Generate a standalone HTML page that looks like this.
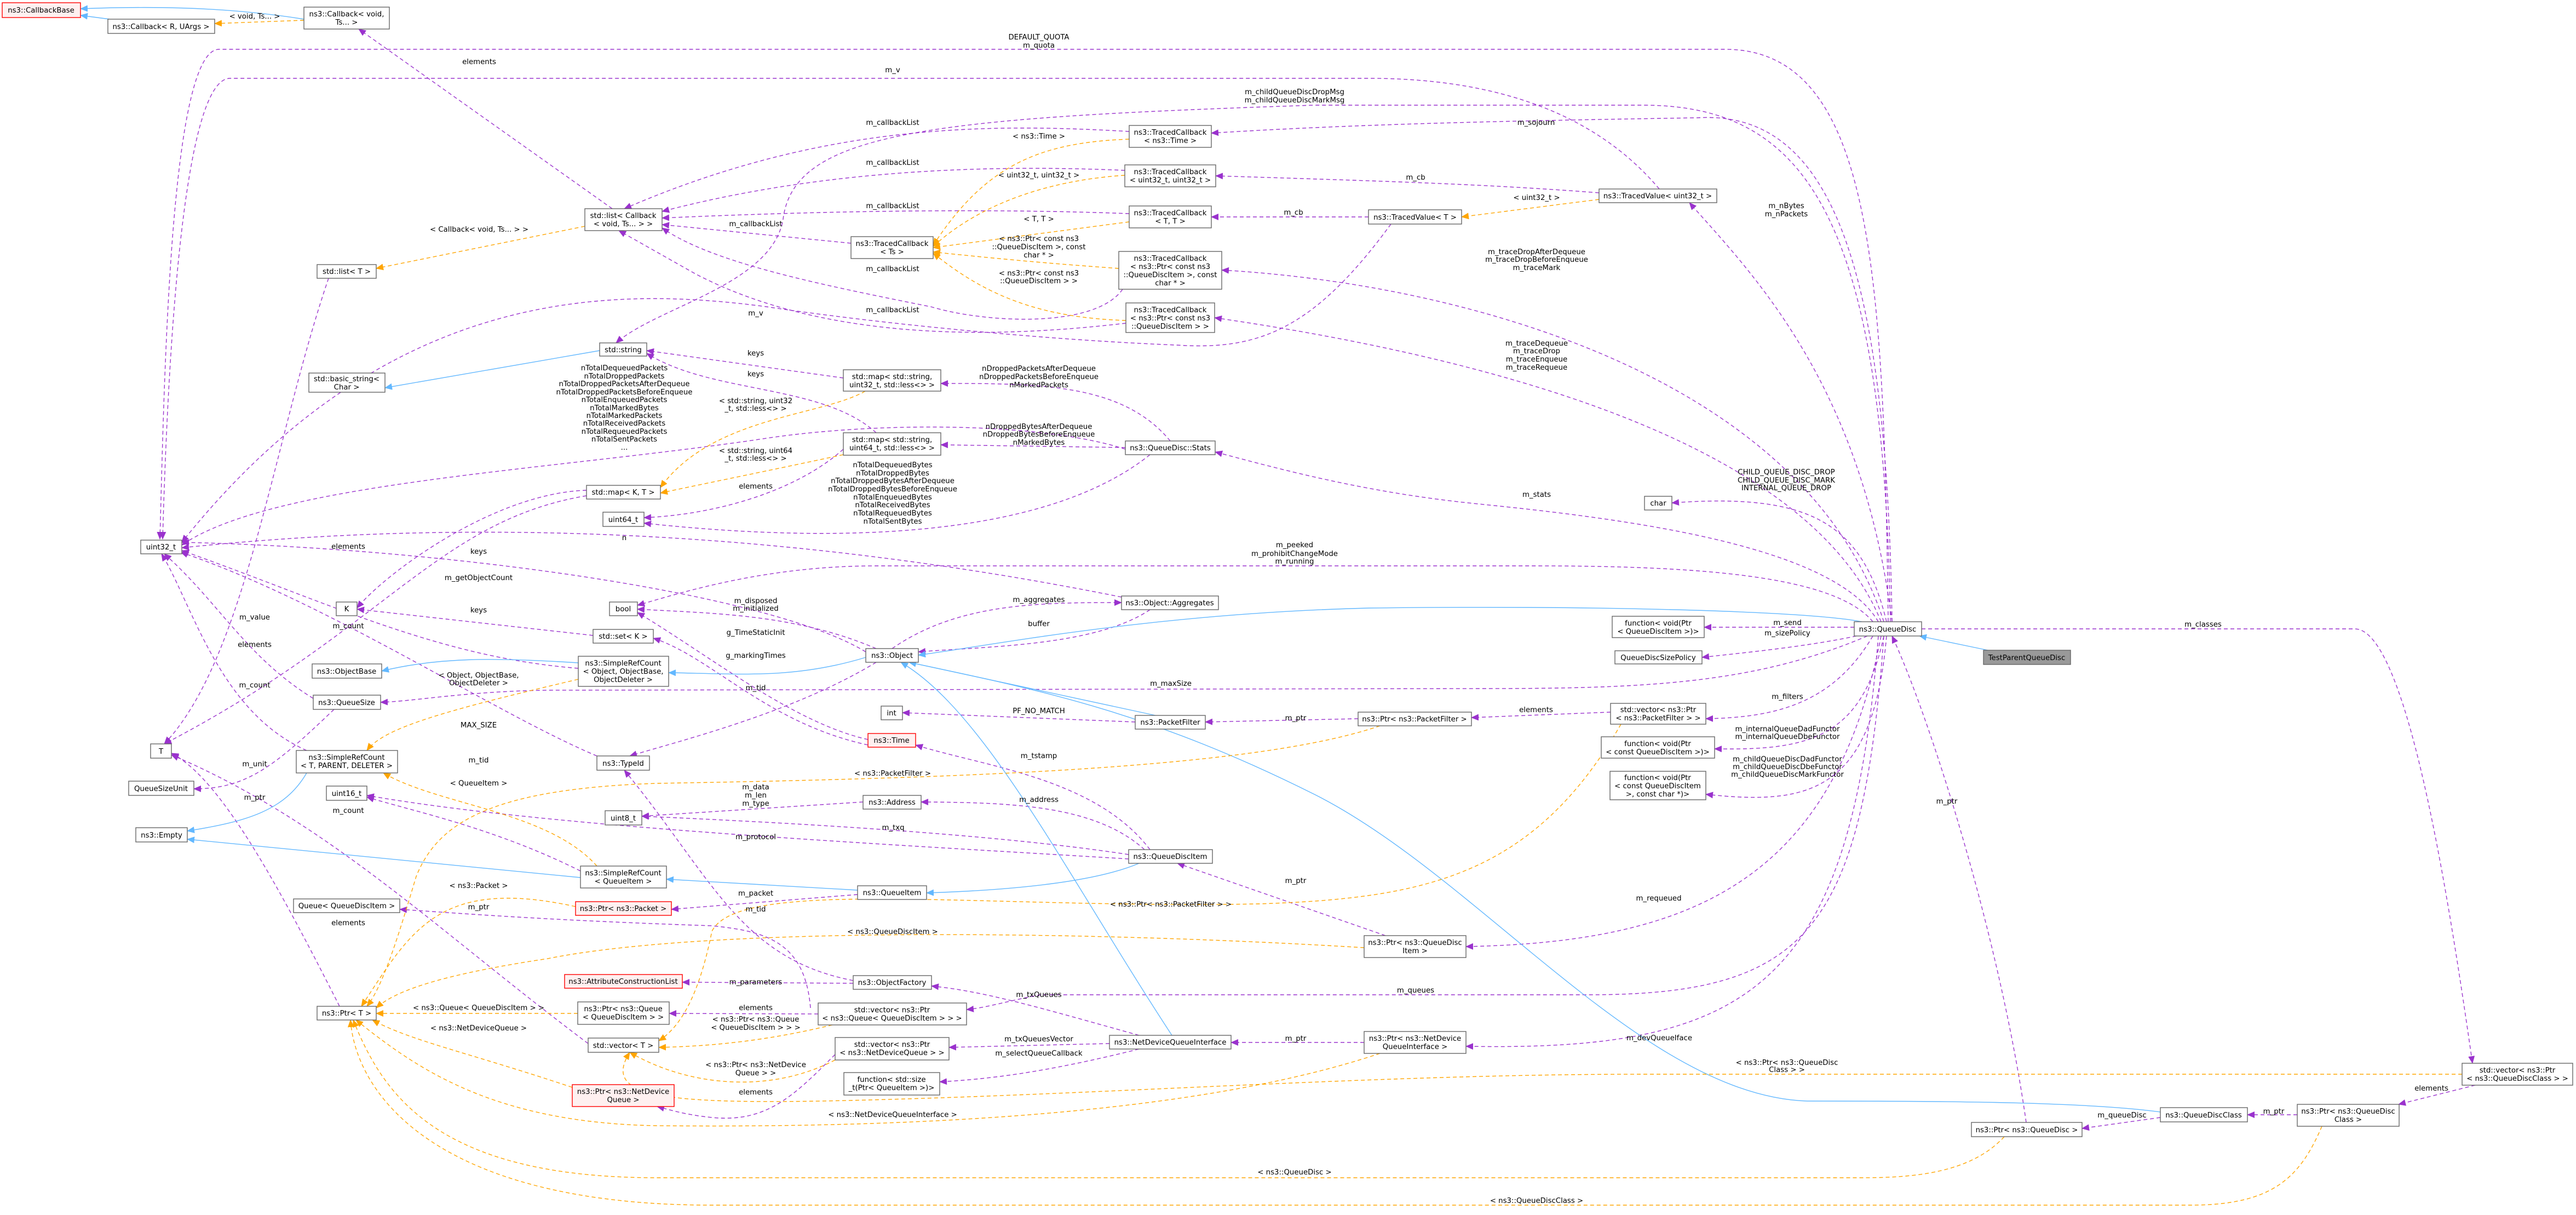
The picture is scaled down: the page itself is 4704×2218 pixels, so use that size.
<!DOCTYPE html>
<html><head><meta charset="utf-8">
<style>
html,body{margin:0;padding:0;background:#fff;}
svg{display:block;}
text{font-family:"DejaVu Sans","Liberation Sans",sans-serif;font-size:13.3px;fill:#000;}
.n{fill:#fff;stroke:#666;stroke-width:1.4;}
.r{fill:#fff0f0;stroke:#f00;stroke-width:1.4;}
.g{fill:#999;stroke:#666;stroke-width:1.4;}
.p{fill:none;stroke:#9a32cd;stroke-width:1.4;stroke-dasharray:7,5;}
.b{fill:none;stroke:#63b8ff;stroke-width:1.4;}
.o{fill:none;stroke:#ffa500;stroke-width:1.4;stroke-dasharray:7,5;}
</style></head><body>
<svg width="4704" height="2218" viewBox="0 0 4704 2218" xmlns="http://www.w3.org/2000/svg">
<defs>
<marker id="mp" markerWidth="14" markerHeight="12" refX="13" refY="6" orient="auto" markerUnits="userSpaceOnUse"><path d="M0,0 L14,6 L0,12 z" fill="#9a32cd"/></marker>
<marker id="mb" markerWidth="14" markerHeight="12" refX="13" refY="6" orient="auto" markerUnits="userSpaceOnUse"><path d="M0,0 L14,6 L0,12 z" fill="#63b8ff"/></marker>
<marker id="mo" markerWidth="14" markerHeight="12" refX="13" refY="6" orient="auto" markerUnits="userSpaceOnUse"><path d="M0,0 L14,6 L0,12 z" fill="#ffa500"/></marker>
</defs>
<rect width="4704" height="2218" fill="#fff"/>

<!-- purple edges -->
<g marker-end="url(#mp)">
<path class="p" d="M3448,1135 C3440,500 3420,90 3150,90 L400,90 C310,90 300,700 292,984"/>
<path class="p" d="M3030,345 C2950,250 2800,143 2500,143 L420,143 C330,143 305,700 297,984"/>
<path class="p" d="M2540,409 C2400,600 2300,640 2150,630 C1900,620 1600,590 1400,560 C1100,520 700,530 332,990"/>
<path class="p" d="M3452,1135 C3440,400 3300,192 3000,192 L2400,192 C1700,215 1450,240 1430,400 C1410,520 1200,560 1125,626"/>
<path class="p" d="M3455,1135 C3445,500 3350,200 3100,215 C2800,220 2500,225 2212,243"/>
<path class="p" d="M2062,240 C1800,225 1500,225 1140,381"/>
<path class="p" d="M2054,311 C1800,300 1500,310 1209,386"/>
<path class="p" d="M2062,390 C1800,380 1500,385 1209,398"/>
<path class="p" d="M1554,444 L1209,410"/>
<path class="p" d="M2050,528 C2000,600 1800,590 1700,560 C1500,520 1300,480 1209,416"/>
<path class="p" d="M2056,590 C1800,620 1500,620 1270,500 L1130,421"/>
<path class="p" d="M1118,381 L655,53"/>
<path class="p" d="M2920,352 C2700,335 2500,330 2220,321"/>
<path class="p" d="M2499,396 L2212,396"/>
<path class="p" d="M3455,1135 C3400,700 3200,500 3085,370"/>
<path class="p" d="M3440,1135 C3300,700 2700,520 2231,493"/>
<path class="p" d="M3435,1135 C3300,800 2700,650 2218,580"/>
<path class="p" d="M3430,1135 C3350,1000 3000,950 2700,920 C2500,900 2350,860 2219,825"/>
<path class="p" d="M3445,1135 C3400,950 3300,900 3053,918"/>
<path class="p" d="M2137,805 C2050,700 1900,700 1718,700"/>
<path class="p" d="M2055,817 L1718,812"/>
<path class="p" d="M2100,830 C1900,990 1500,990 1176,955"/>
<path class="p" d="M2055,820 C1900,770 1600,770 1400,800 C1000,860 500,880 332,995"/>
<path class="p" d="M1540,690 L1181,640"/>
<path class="p" d="M1600,790 C1500,700 1300,720 1181,645"/>
<path class="p" d="M1071,895 C900,900 700,1050 652,1110"/>
<path class="p" d="M1071,905 C800,950 700,1150 300,1358"/>
<path class="p" d="M1540,820 C1450,900 1300,940 1176,945"/>
<path class="p" d="M3420,1135 C3350,1050 3100,1033 2800,1033 L1600,1033 C1400,1033 1250,1080 1164,1105"/>
<path class="p" d="M1600,1184 C1450,1120 1300,1120 1164,1112"/>
<path class="p" d="M1629,1184 C1750,1100 1900,1100 2048,1100"/>
<path class="p" d="M2100,1113 C2000,1180 1800,1180 1677,1190"/>
<path class="p" d="M2048,1090 C1600,1000 1000,930 332,1000"/>
<path class="p" d="M1585,1350 C1450,1320 1300,1200 1164,1118"/>
<path class="p" d="M1585,1360 C1400,1320 1300,1200 1193,1165"/>
<path class="p" d="M1600,1209 C1450,1300 1250,1350 1150,1380"/>
<path class="p" d="M3410,1161 C3200,1250 3000,1257 2700,1257 L1000,1260 C850,1262 760,1280 695,1282"/>
<path class="p" d="M2073,1318 L1648,1301"/>
<path class="p" d="M2480,1312 L2201,1318"/>
<path class="p" d="M2941,1300 L2687,1310"/>
<path class="p" d="M3420,1161 C3350,1280 3250,1310 3115,1312"/>
<path class="p" d="M3386,1145 L3112,1145"/>
<path class="p" d="M3390,1161 C3300,1180 3200,1190 3108,1200"/>
<path class="p" d="M3440,1161 C3400,1350 3300,1370 3131,1367"/>
<path class="p" d="M3445,1161 C3420,1450 3300,1470 3115,1450"/>
<path class="p" d="M2100,1551 C2000,1420 1800,1400 1672,1360"/>
<path class="p" d="M2090,1551 C2000,1470 1850,1465 1682,1464"/>
<path class="p" d="M2061,1560 C1800,1520 1400,1500 1172,1490"/>
<path class="p" d="M2061,1568 C1600,1540 1000,1510 670,1452"/>
<path class="p" d="M1576,1464 L1172,1490"/>
<path class="p" d="M1566,1633 L1226,1660"/>
<path class="p" d="M2530,1708 L2150,1576"/>
<path class="p" d="M3435,1161 C3350,1600 3100,1720 2677,1728"/>
<path class="p" d="M1558,1795 L1246,1793"/>
<path class="p" d="M1558,1790 C1350,1750 1300,1600 1140,1406"/>
<path class="p" d="M1494,1851 L1222,1850"/>
<path class="p" d="M1480,1840 C1470,1720 1400,1700 1300,1690 C1000,1680 850,1668 730,1660"/>
<path class="p" d="M3440,1161 C3400,1700 3300,1816 2900,1816 L1900,1816 C1850,1825 1800,1840 1765,1843"/>
<path class="p" d="M2080,1890 C1900,1840 1800,1810 1701,1800"/>
<path class="p" d="M2026,1905 L1733,1912"/>
<path class="p" d="M2080,1915 C1900,1960 1800,1970 1716,1975"/>
<path class="p" d="M2491,1903 L2248,1903"/>
<path class="p" d="M3430,1161 C3380,1800 3200,1920 2677,1910"/>
<path class="p" d="M1525,1925 C1450,2000 1400,2050 1300,2040 C1250,2035 1220,2025 1200,2020"/>
<path class="p" d="M3945,2040 L3802,2060"/>
<path class="p" d="M4195,2035 L4104,2035"/>
<path class="p" d="M4520,1981 L4380,2016"/>
<path class="p" d="M3509,1148 L4300,1148 C4400,1148 4480,1700 4515,1941"/>
<path class="p" d="M3700,2049 C3650,1700 3520,1300 3455,1161"/>
<path class="p" d="M1056,1220 C800,1200 600,1100 332,1005"/>
<path class="p" d="M572,1275 C450,1200 400,1100 300,1011"/>
<path class="p" d="M610,1295 C500,1400 450,1440 354,1440"/>
<path class="p" d="M560,1370 C400,1300 350,1100 295,1011"/>
<path class="p" d="M620,1837 C500,1600 400,1420 313,1375"/>
<path class="p" d="M1074,1905 C800,1700 600,1500 313,1378"/>
<path class="p" d="M600,508 C500,800 450,1200 300,1358"/>
<path class="p" d="M1060,1590 C900,1510 750,1480 670,1455"/>
<path class="p" d="M1581,1190 C1400,1080 800,1000 332,990"/>
<path class="p" d="M1083,1160 L652,1112"/>
<path class="p" d="M1090,1380 C900,1300 600,1100 330,1008"/>
</g>

<!-- blue edges -->
<g marker-end="url(#mb)">
<path class="b" d="M555,35 C400,10 250,12 147,16"/>
<path class="b" d="M200,35 L147,28"/>
<path class="b" d="M1095,640 L703,708"/>
<path class="b" d="M1581,1200 C1450,1240 1350,1230 1221,1228"/>
<path class="b" d="M1056,1210 C900,1200 800,1200 697,1225"/>
<path class="b" d="M560,1411 C520,1480 450,1500 342,1517"/>
<path class="b" d="M1060,1602 L342,1532"/>
<path class="b" d="M1566,1625 L1217,1605"/>
<path class="b" d="M2080,1576 C2000,1610 1850,1625 1692,1630"/>
<path class="b" d="M3400,1135 C3300,1115 2900,1105 2500,1110 C2100,1120 1800,1180 1677,1196"/>
<path class="b" d="M2110,1306 L1660,1209"/>
<path class="b" d="M2140,1890 C1950,1600 1800,1300 1645,1209"/>
<path class="b" d="M3945,2030 C3800,2010 3500,2010 3300,2010 C3000,2000 2700,1600 2400,1450 C2100,1300 1900,1260 1660,1209"/>
<path class="b" d="M3630,1187 L3505,1161"/>
</g>

<!-- orange edges -->
<g marker-end="url(#mo)">
<path class="o" d="M555,37 L392,43"/>
<path class="o" d="M1068,413 L687,490"/>
<path class="o" d="M2062,254 C1900,260 1800,300 1704,448"/>
<path class="o" d="M2054,320 C1900,330 1780,380 1704,450"/>
<path class="o" d="M2062,405 L1704,452"/>
<path class="o" d="M2043,490 C1900,480 1800,470 1704,460"/>
<path class="o" d="M2056,585 C1900,580 1800,540 1704,462"/>
<path class="o" d="M2920,364 L2669,396"/>
<path class="o" d="M1580,714 C1500,760 1300,760 1206,890"/>
<path class="o" d="M1540,830 C1400,860 1300,880 1206,900"/>
<path class="o" d="M1056,1240 C800,1300 700,1330 670,1370"/>
<path class="o" d="M1090,1581 C1000,1480 800,1470 700,1411"/>
<path class="o" d="M1051,1655 C800,1600 750,1700 660,1837"/>
<path class="o" d="M2520,1325 C2300,1400 1800,1420 1200,1430 C900,1440 800,1500 760,1600 C730,1700 700,1800 670,1837"/>
<path class="o" d="M2491,1730 C2000,1700 1300,1690 1000,1750 C800,1780 720,1810 687,1840"/>
<path class="o" d="M1055,1850 L687,1850"/>
<path class="o" d="M1045,1985 C850,1920 750,1900 680,1862"/>
<path class="o" d="M2520,1923 C2200,2030 1700,2060 1200,2055 C900,2050 760,1950 650,1862"/>
<path class="o" d="M3660,2075 C3600,2140 3500,2150 3400,2150 L1200,2150 C800,2150 700,2000 645,1862"/>
<path class="o" d="M4240,2056 C4200,2150 4150,2200 4000,2200 L1300,2200 C800,2200 650,2000 640,1862"/>
<path class="o" d="M4496,1961 L3000,1961 C2500,1961 2000,2000 1500,2010 C1200,2015 1100,2000 1150,1921"/>
<path class="o" d="M1520,1871 C1400,1900 1300,1910 1203,1912"/>
<path class="o" d="M1525,1935 C1400,2000 1250,1980 1150,1921"/>
<path class="o" d="M2960,1322 C2800,1600 2600,1640 2300,1650 C1800,1660 1350,1600 1300,1700 C1280,1800 1250,1870 1203,1900"/>
</g>

<!-- nodes -->
<g>
<rect class="r" x="4" y="5" width="143" height="27"/><text x="75" y="23" text-anchor="middle">ns3::CallbackBase</text>
<rect class="n" x="197" y="35" width="195" height="26"/><text x="294" y="53" text-anchor="middle">ns3::Callback&lt; R, UArgs &gt;</text>
<rect class="n" x="555" y="13" width="156" height="40"/><text x="633" y="30" text-anchor="middle">ns3::Callback&lt; void,</text><text x="633" y="45" text-anchor="middle">Ts... &gt;</text>
<rect class="n" x="1068" y="381" width="141" height="40"/><text x="1138" y="398" text-anchor="middle">std::list&lt; Callback</text><text x="1138" y="413" text-anchor="middle">&lt; void, Ts... &gt; &gt;</text>
<rect class="n" x="579" y="483" width="108" height="25"/><text x="633" y="500" text-anchor="middle">std::list&lt; T &gt;</text>
<rect class="n" x="2062" y="229" width="150" height="40"/><text x="2137" y="246" text-anchor="middle">ns3::TracedCallback</text><text x="2137" y="261" text-anchor="middle">&lt; ns3::Time &gt;</text>
<rect class="n" x="2054" y="301" width="166" height="40"/><text x="2137" y="318" text-anchor="middle">ns3::TracedCallback</text><text x="2137" y="333" text-anchor="middle">&lt; uint32_t, uint32_t &gt;</text>
<rect class="n" x="2062" y="376" width="150" height="40"/><text x="2137" y="393" text-anchor="middle">ns3::TracedCallback</text><text x="2137" y="408" text-anchor="middle">&lt; T, T &gt;</text>
<rect class="n" x="1554" y="432" width="150" height="40"/><text x="1629" y="449" text-anchor="middle">ns3::TracedCallback</text><text x="1629" y="464" text-anchor="middle">&lt; Ts &gt;</text>
<rect class="n" x="2043" y="459" width="188" height="69"/><text x="2137" y="476" text-anchor="middle">ns3::TracedCallback</text><text x="2137" y="491" text-anchor="middle">&lt; ns3::Ptr&lt; const ns3</text><text x="2137" y="506" text-anchor="middle">::QueueDiscItem &gt;, const</text><text x="2137" y="521" text-anchor="middle">char * &gt;</text>
<rect class="n" x="2056" y="553" width="162" height="54"/><text x="2137" y="570" text-anchor="middle">ns3::TracedCallback</text><text x="2137" y="585" text-anchor="middle">&lt; ns3::Ptr&lt; const ns3</text><text x="2137" y="600" text-anchor="middle">::QueueDiscItem &gt; &gt;</text>
<rect class="n" x="2499" y="383" width="170" height="26"/><text x="2584" y="401" text-anchor="middle">ns3::TracedValue&lt; T &gt;</text>
<rect class="n" x="2920" y="345" width="215" height="25"/><text x="3027" y="362" text-anchor="middle">ns3::TracedValue&lt; uint32_t &gt;</text>
<rect class="n" x="564" y="681" width="139" height="35"/><text x="633" y="696" text-anchor="middle">std::basic_string&lt;</text><text x="633" y="711" text-anchor="middle">Char &gt;</text>
<rect class="n" x="1095" y="626" width="86" height="24"/><text x="1138" y="643" text-anchor="middle">std::string</text>
<rect class="n" x="1540" y="675" width="178" height="39"/><text x="1629" y="692" text-anchor="middle">std::map&lt; std::string,</text><text x="1629" y="707" text-anchor="middle">uint32_t, std::less&lt;&gt; &gt;</text>
<rect class="n" x="1540" y="790" width="178" height="41"/><text x="1629" y="807" text-anchor="middle">std::map&lt; std::string,</text><text x="1629" y="822" text-anchor="middle">uint64_t, std::less&lt;&gt; &gt;</text>
<rect class="n" x="2055" y="805" width="164" height="25"/><text x="2137" y="822" text-anchor="middle">ns3::QueueDisc::Stats</text>
<rect class="n" x="1071" y="886" width="135" height="25"/><text x="1138" y="903" text-anchor="middle">std::map&lt; K, T &gt;</text>
<rect class="n" x="1101" y="935" width="75" height="26"/><text x="1138" y="953" text-anchor="middle">uint64_t</text>
<rect class="n" x="257" y="986" width="75" height="25"/><text x="294" y="1003" text-anchor="middle">uint32_t</text>
<rect class="n" x="3003" y="906" width="50" height="25"/><text x="3028" y="923" text-anchor="middle">char</text>
<rect class="n" x="1113" y="1099" width="51" height="25"/><text x="1138" y="1116" text-anchor="middle">bool</text>
<rect class="n" x="2048" y="1088" width="177" height="25"/><text x="2136" y="1105" text-anchor="middle">ns3::Object::Aggregates</text>
<rect class="n" x="614" y="1099" width="38" height="25"/><text x="633" y="1116" text-anchor="middle">K</text>
<rect class="n" x="1083" y="1149" width="110" height="25"/><text x="1138" y="1166" text-anchor="middle">std::set&lt; K &gt;</text>
<rect class="n" x="1581" y="1184" width="96" height="25"/><text x="1629" y="1201" text-anchor="middle">ns3::Object</text>
<rect class="n" x="1056" y="1198" width="165" height="55"/><text x="1138" y="1215" text-anchor="middle">ns3::SimpleRefCount</text><text x="1138" y="1230" text-anchor="middle">&lt; Object, ObjectBase,</text><text x="1138" y="1245" text-anchor="middle">ObjectDeleter &gt;</text>
<rect class="n" x="570" y="1212" width="127" height="26"/><text x="633" y="1230" text-anchor="middle">ns3::ObjectBase</text>
<rect class="n" x="572" y="1269" width="123" height="26"/><text x="633" y="1287" text-anchor="middle">ns3::QueueSize</text>
<rect class="n" x="1609" y="1289" width="39" height="25"/><text x="1628" y="1306" text-anchor="middle">int</text>
<rect class="n" x="2073" y="1306" width="128" height="25"/><text x="2137" y="1323" text-anchor="middle">ns3::PacketFilter</text>
<rect class="n" x="2480" y="1300" width="207" height="25"/><text x="2583" y="1317" text-anchor="middle">ns3::Ptr&lt; ns3::PacketFilter &gt;</text>
<rect class="r" x="1585" y="1339" width="87" height="25"/><text x="1628" y="1356" text-anchor="middle">ns3::Time</text>
<rect class="n" x="275" y="1358" width="38" height="26"/><text x="294" y="1376" text-anchor="middle">T</text>
<rect class="n" x="541" y="1370" width="185" height="41"/><text x="633" y="1387" text-anchor="middle">ns3::SimpleRefCount</text><text x="633" y="1402" text-anchor="middle">&lt; T, PARENT, DELETER &gt;</text>
<rect class="n" x="1090" y="1380" width="96" height="26"/><text x="1138" y="1398" text-anchor="middle">ns3::TypeId</text>
<rect class="n" x="235" y="1426" width="119" height="26"/><text x="294" y="1444" text-anchor="middle">QueueSizeUnit</text>
<rect class="n" x="596" y="1435" width="74" height="26"/><text x="633" y="1453" text-anchor="middle">uint16_t</text>
<rect class="n" x="1576" y="1452" width="106" height="25"/><text x="1629" y="1469" text-anchor="middle">ns3::Address</text>
<rect class="n" x="1105" y="1480" width="67" height="26"/><text x="1138" y="1498" text-anchor="middle">uint8_t</text>
<rect class="n" x="248" y="1511" width="94" height="26"/><text x="295" y="1529" text-anchor="middle">ns3::Empty</text>
<rect class="n" x="2061" y="1551" width="153" height="25"/><text x="2137" y="1568" text-anchor="middle">ns3::QueueDiscItem</text>
<rect class="n" x="1060" y="1581" width="157" height="40"/><text x="1138" y="1598" text-anchor="middle">ns3::SimpleRefCount</text><text x="1138" y="1613" text-anchor="middle">&lt; QueueItem &gt;</text>
<rect class="n" x="1566" y="1617" width="126" height="25"/><text x="1629" y="1634" text-anchor="middle">ns3::QueueItem</text>
<rect class="n" x="536" y="1641" width="194" height="25"/><text x="633" y="1658" text-anchor="middle">Queue&lt; QueueDiscItem &gt;</text>
<rect class="r" x="1051" y="1646" width="175" height="25"/><text x="1138" y="1663" text-anchor="middle">ns3::Ptr&lt; ns3::Packet &gt;</text>
<rect class="n" x="2491" y="1708" width="186" height="40"/><text x="2584" y="1725" text-anchor="middle">ns3::Ptr&lt; ns3::QueueDisc</text><text x="2584" y="1740" text-anchor="middle">Item &gt;</text>
<rect class="r" x="1031" y="1779" width="215" height="25"/><text x="1138" y="1796" text-anchor="middle">ns3::AttributeConstructionList</text>
<rect class="n" x="1558" y="1781" width="143" height="25"/><text x="1629" y="1798" text-anchor="middle">ns3::ObjectFactory</text>
<rect class="n" x="579" y="1837" width="108" height="25"/><text x="633" y="1854" text-anchor="middle">ns3::Ptr&lt; T &gt;</text>
<rect class="n" x="1055" y="1829" width="167" height="41"/><text x="1138" y="1846" text-anchor="middle">ns3::Ptr&lt; ns3::Queue</text><text x="1138" y="1861" text-anchor="middle">&lt; QueueDiscItem &gt; &gt;</text>
<rect class="n" x="1494" y="1831" width="271" height="40"/><text x="1629" y="1848" text-anchor="middle">std::vector&lt; ns3::Ptr</text><text x="1629" y="1863" text-anchor="middle">&lt; ns3::Queue&lt; QueueDiscItem &gt; &gt; &gt;</text>
<rect class="n" x="1074" y="1895" width="129" height="26"/><text x="1138" y="1913" text-anchor="middle">std::vector&lt; T &gt;</text>
<rect class="n" x="1525" y="1894" width="208" height="41"/><text x="1629" y="1911" text-anchor="middle">std::vector&lt; ns3::Ptr</text><text x="1629" y="1926" text-anchor="middle">&lt; ns3::NetDeviceQueue &gt; &gt;</text>
<rect class="n" x="2026" y="1890" width="222" height="25"/><text x="2137" y="1907" text-anchor="middle">ns3::NetDeviceQueueInterface</text>
<rect class="n" x="2491" y="1883" width="186" height="40"/><text x="2584" y="1900" text-anchor="middle">ns3::Ptr&lt; ns3::NetDevice</text><text x="2584" y="1915" text-anchor="middle">QueueInterface &gt;</text>
<rect class="n" x="1541" y="1958" width="175" height="41"/><text x="1628" y="1975" text-anchor="middle">function&lt; std::size</text><text x="1628" y="1990" text-anchor="middle">_t(Ptr&lt; QueueItem &gt;)&gt;</text>
<rect class="r" x="1045" y="1980" width="186" height="40"/><text x="1138" y="1997" text-anchor="middle">ns3::Ptr&lt; ns3::NetDevice</text><text x="1138" y="2012" text-anchor="middle">Queue &gt;</text>
<rect class="n" x="3386" y="1135" width="123" height="26"/><text x="3447" y="1153" text-anchor="middle">ns3::QueueDisc</text>
<rect class="g" x="3622" y="1187" width="159" height="26"/><text x="3701" y="1205" text-anchor="middle">TestParentQueueDisc</text>
<rect class="n" x="2944" y="1125" width="168" height="39"/><text x="3028" y="1142" text-anchor="middle">function&lt; void(Ptr</text><text x="3028" y="1157" text-anchor="middle">&lt; QueueDiscItem &gt;)&gt;</text>
<rect class="n" x="2949" y="1188" width="159" height="24"/><text x="3028" y="1205" text-anchor="middle">QueueDiscSizePolicy</text>
<rect class="n" x="2941" y="1284" width="174" height="38"/><text x="3028" y="1300" text-anchor="middle">std::vector&lt; ns3::Ptr</text><text x="3028" y="1315" text-anchor="middle">&lt; ns3::PacketFilter &gt; &gt;</text>
<rect class="n" x="2924" y="1345" width="207" height="39"/><text x="3027" y="1362" text-anchor="middle">function&lt; void(Ptr</text><text x="3027" y="1377" text-anchor="middle">&lt; const QueueDiscItem &gt;)&gt;</text>
<rect class="n" x="2940" y="1408" width="175" height="52"/><text x="3027" y="1424" text-anchor="middle">function&lt; void(Ptr</text><text x="3027" y="1439" text-anchor="middle">&lt; const QueueDiscItem</text><text x="3027" y="1454" text-anchor="middle">&gt;, const char *)&gt;</text>
<rect class="n" x="4496" y="1941" width="202" height="40"/><text x="4597" y="1958" text-anchor="middle">std::vector&lt; ns3::Ptr</text><text x="4597" y="1973" text-anchor="middle">&lt; ns3::QueueDiscClass &gt; &gt;</text>
<rect class="n" x="4195" y="2016" width="186" height="40"/><text x="4288" y="2033" text-anchor="middle">ns3::Ptr&lt; ns3::QueueDisc</text><text x="4288" y="2048" text-anchor="middle">Class &gt;</text>
<rect class="n" x="3945" y="2022" width="159" height="26"/><text x="4024" y="2040" text-anchor="middle">ns3::QueueDiscClass</text>
<rect class="n" x="3600" y="2049" width="202" height="26"/><text x="3701" y="2067" text-anchor="middle">ns3::Ptr&lt; ns3::QueueDisc &gt;</text>
</g>

<!-- labels -->
<g text-anchor="middle">
<text x="465" y="34">&lt; void, Ts... &gt;</text>
<text x="875" y="117">elements</text>
<text x="875" y="423">&lt; Callback&lt; void, Ts... &gt; &gt;</text>
<text x="1897" y="72">DEFAULT_QUOTA</text>
<text x="1897" y="87">m_quota</text>
<text x="1630" y="132">m_v</text>
<text x="2364" y="172">m_childQueueDiscDropMsg</text>
<text x="2364" y="187">m_childQueueDiscMarkMsg</text>
<text x="1630" y="228">m_callbackList</text>
<text x="1630" y="301">m_callbackList</text>
<text x="1630" y="380">m_callbackList</text>
<text x="1380" y="413">m_callbackList</text>
<text x="1630" y="495">m_callbackList</text>
<text x="1630" y="570">m_callbackList</text>
<text x="1897" y="253">&lt; ns3::Time &gt;</text>
<text x="1897" y="324">&lt; uint32_t, uint32_t &gt;</text>
<text x="1897" y="404">&lt; T, T &gt;</text>
<text x="1897" y="440">&lt; ns3::Ptr&lt; const ns3</text>
<text x="1897" y="455">::QueueDiscItem &gt;, const</text>
<text x="1897" y="470">char * &gt;</text>
<text x="1897" y="503">&lt; ns3::Ptr&lt; const ns3</text>
<text x="1897" y="517">::QueueDiscItem &gt; &gt;</text>
<text x="2362" y="392">m_cb</text>
<text x="2585" y="328">m_cb</text>
<text x="2805" y="228">m_sojourn</text>
<text x="2806" y="365">&lt; uint32_t &gt;</text>
<text x="3262" y="380">m_nBytes</text>
<text x="3262" y="395">m_nPackets</text>
<text x="2806" y="464">m_traceDropAfterDequeue</text>
<text x="2806" y="478">m_traceDropBeforeEnqueue</text>
<text x="2806" y="493">m_traceMark</text>
<text x="2806" y="631">m_traceDequeue</text>
<text x="2806" y="645">m_traceDrop</text>
<text x="2806" y="660">m_traceEnqueue</text>
<text x="2806" y="675">m_traceRequeue</text>
<text x="3262" y="866">CHILD_QUEUE_DISC_DROP</text>
<text x="3262" y="881">CHILD_QUEUE_DISC_MARK</text>
<text x="3262" y="895">INTERNAL_QUEUE_DROP</text>
<text x="2806" y="907">m_stats</text>
<text x="1380" y="576">m_v</text>
<text x="1380" y="649">keys</text>
<text x="1380" y="687">keys</text>
<text x="1380" y="736">&lt; std::string, uint32</text>
<text x="1380" y="750">_t, std::less&lt;&gt; &gt;</text>
<text x="1897" y="677">nDroppedPacketsAfterDequeue</text>
<text x="1897" y="692">nDroppedPacketsBeforeEnqueue</text>
<text x="1897" y="707">nMarkedPackets</text>
<text x="1140" y="676">nTotalDequeuedPackets</text>
<text x="1140" y="691">nTotalDroppedPackets</text>
<text x="1140" y="705">nTotalDroppedPacketsAfterDequeue</text>
<text x="1140" y="720">nTotalDroppedPacketsBeforeEnqueue</text>
<text x="1140" y="734">nTotalEnqueuedPackets</text>
<text x="1140" y="749">nTotalMarkedBytes</text>
<text x="1140" y="763">nTotalMarkedPackets</text>
<text x="1140" y="777">nTotalReceivedPackets</text>
<text x="1140" y="792">nTotalRequeuedPackets</text>
<text x="1140" y="806">nTotalSentPackets</text>
<text x="1140" y="821">...</text>
<text x="1897" y="783">nDroppedBytesAfterDequeue</text>
<text x="1897" y="797">nDroppedBytesBeforeEnqueue</text>
<text x="1897" y="812">nMarkedBytes</text>
<text x="1380" y="827">&lt; std::string, uint64</text>
<text x="1380" y="841">_t, std::less&lt;&gt; &gt;</text>
<text x="1380" y="892">elements</text>
<text x="1630" y="853">nTotalDequeuedBytes</text>
<text x="1630" y="868">nTotalDroppedBytes</text>
<text x="1630" y="882">nTotalDroppedBytesAfterDequeue</text>
<text x="1630" y="897">nTotalDroppedBytesBeforeEnqueue</text>
<text x="1630" y="912">nTotalEnqueuedBytes</text>
<text x="1630" y="926">nTotalReceivedBytes</text>
<text x="1630" y="941">nTotalRequeuedBytes</text>
<text x="1630" y="956">nTotalSentBytes</text>
<text x="1140" y="986">n</text>
<text x="2364" y="999">m_peeked</text>
<text x="2364" y="1015">m_prohibitChangeMode</text>
<text x="2364" y="1029">m_running</text>
<text x="1380" y="1101">m_disposed</text>
<text x="1380" y="1115">m_initialized</text>
<text x="1897" y="1099">m_aggregates</text>
<text x="1897" y="1143">buffer</text>
<text x="1380" y="1159">g_TimeStaticInit</text>
<text x="1380" y="1201">g_markingTimes</text>
<text x="1380" y="1260">m_tid</text>
<text x="2138" y="1252">m_maxSize</text>
<text x="1897" y="1302">PF_NO_MATCH</text>
<text x="2366" y="1315">m_ptr</text>
<text x="2805" y="1300">elements</text>
<text x="3264" y="1141">m_send</text>
<text x="3264" y="1160">m_sizePolicy</text>
<text x="3264" y="1276">m_filters</text>
<text x="3264" y="1335">m_internalQueueDadFunctor</text>
<text x="3264" y="1349">m_internalQueueDbeFunctor</text>
<text x="3264" y="1390">m_childQueueDiscDadFunctor</text>
<text x="3264" y="1404">m_childQueueDiscDbeFunctor</text>
<text x="3264" y="1418">m_childQueueDiscMarkFunctor</text>
<text x="4023" y="1144">m_classes</text>
<text x="3555" y="1467">m_ptr</text>
<text x="1897" y="1384">m_tstamp</text>
<text x="1630" y="1416">&lt; ns3::PacketFilter &gt;</text>
<text x="1380" y="1441">m_data</text>
<text x="1380" y="1456">m_len</text>
<text x="1380" y="1471">m_type</text>
<text x="1897" y="1464">m_address</text>
<text x="1631" y="1515">m_txq</text>
<text x="1380" y="1532">m_protocol</text>
<text x="2366" y="1612">m_ptr</text>
<text x="1380" y="1635">m_packet</text>
<text x="1380" y="1664">m_tid</text>
<text x="2138" y="1655">&lt; ns3::Ptr&lt; ns3::PacketFilter &gt; &gt;</text>
<text x="1630" y="1705">&lt; ns3::QueueDiscItem &gt;</text>
<text x="3029" y="1644">m_requeued</text>
<text x="1380" y="1797">m_parameters</text>
<text x="1897" y="1820">m_txQueues</text>
<text x="2585" y="1812">m_queues</text>
<text x="1380" y="1844">elements</text>
<text x="1380" y="1865">&lt; ns3::Ptr&lt; ns3::Queue</text>
<text x="1380" y="1880">&lt; QueueDiscItem &gt; &gt; &gt;</text>
<text x="1897" y="1901">m_txQueuesVector</text>
<text x="2366" y="1900">m_ptr</text>
<text x="1897" y="1927">m_selectQueueCallback</text>
<text x="3030" y="1899">m_devQueueIface</text>
<text x="1380" y="1948">&lt; ns3::Ptr&lt; ns3::NetDevice</text>
<text x="1380" y="1963">Queue &gt; &gt;</text>
<text x="1380" y="1998">elements</text>
<text x="1630" y="2039">&lt; ns3::NetDeviceQueueInterface &gt;</text>
<text x="3263" y="1944">&lt; ns3::Ptr&lt; ns3::QueueDisc</text>
<text x="3263" y="1957">Class &gt; &gt;</text>
<text x="3875" y="2040">m_queueDisc</text>
<text x="4152" y="2033">m_ptr</text>
<text x="4440" y="1991">elements</text>
<text x="2364" y="2144">&lt; ns3::QueueDisc &gt;</text>
<text x="2806" y="2196">&lt; ns3::QueueDiscClass &gt;</text>
<text x="636" y="1002">elements</text>
<text x="874" y="1011">keys</text>
<text x="874" y="1059">m_getObjectCount</text>
<text x="874" y="1118">keys</text>
<text x="636" y="1147">m_count</text>
<text x="465" y="1131">m_value</text>
<text x="465" y="1181">elements</text>
<text x="465" y="1255">m_count</text>
<text x="874" y="1237">&lt; Object, ObjectBase,</text>
<text x="874" y="1251">ObjectDeleter &gt;</text>
<text x="874" y="1328">MAX_SIZE</text>
<text x="465" y="1399">m_unit</text>
<text x="874" y="1392">m_tid</text>
<text x="874" y="1434">&lt; QueueItem &gt;</text>
<text x="465" y="1460">m_ptr</text>
<text x="636" y="1484">m_count</text>
<text x="874" y="1621">&lt; ns3::Packet &gt;</text>
<text x="874" y="1660">m_ptr</text>
<text x="636" y="1689">elements</text>
<text x="874" y="1844">&lt; ns3::Queue&lt; QueueDiscItem &gt; &gt;</text>
<text x="874" y="1881">&lt; ns3::NetDeviceQueue &gt;</text>
</g>
</svg>
</body></html>
